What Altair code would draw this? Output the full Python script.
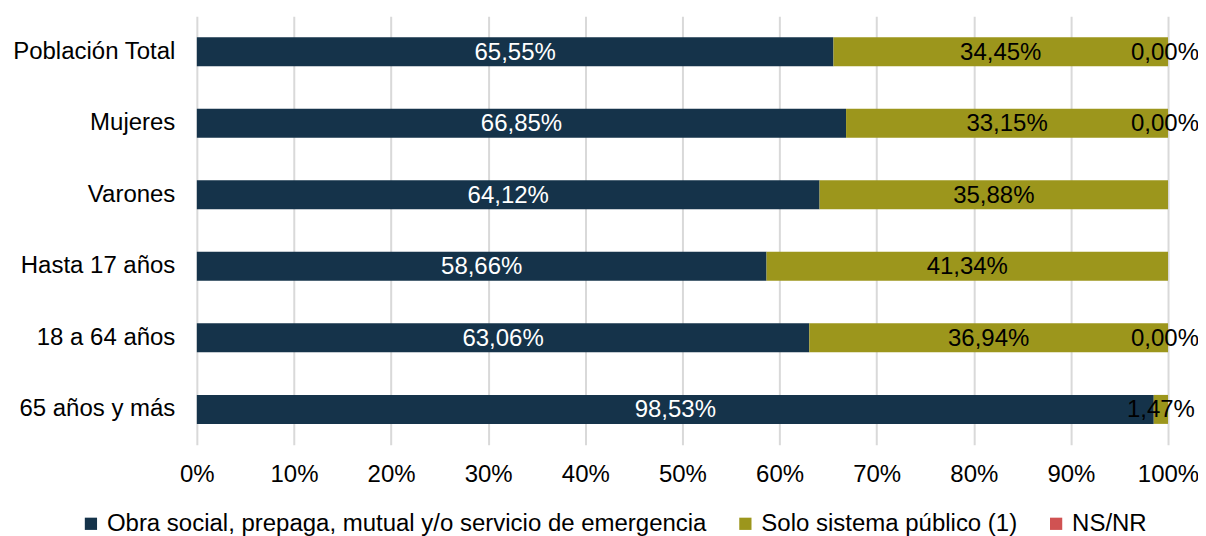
import altair as alt
import pandas as pd

categories = ["Población Total", "Mujeres", "Varones", "Hasta 17 años", "18 a 64 años", "65 años y más"]
series = ["Obra social, prepaga, mutual y/o servicio de emergencia", "Solo sistema público (1)", "NS/NR"]
obra_social = [65.55, 66.85, 64.12, 58.66, 63.06, 98.53]
solo_publico = [34.45, 33.15, 35.88, 41.34, 36.94, 1.47]
ns_nr = [0.00, 0.00, 0.00, 0.00, 0.00, 0.00]
ns_nr_shown = [True, True, False, False, True, False]
colors = ["#15334A", "#9C961C", "#D05252"]
text_colors = ["white", "black", "black"]

rows = []
for i, c in enumerate(categories):
    for j, (s, vals) in enumerate(zip(series, [obra_social, solo_publico, ns_nr])):
        show = True if j < 2 else ns_nr_shown[i]
        rows.append({"category": c, "series": s, "value": vals[i], "order": j,
                     "show": show, "tcolor": text_colors[j]})
df = pd.DataFrame(rows)

FONT = "Liberation Sans"
FS = 24

base = alt.Chart(df).transform_stack(
    stack="value", groupby=["category"], as_=["x0", "x1"],
    sort=[alt.SortField("order", order="ascending")]
).transform_calculate(
    mid="(datum.x0 + datum.x1) / 2",
    label="replace(format(datum.value, '.2f'), '.', ',') + '%'"
)

y_enc = alt.Y("category:N", sort=categories, title=None,
              scale=alt.Scale(paddingInner=0.595, paddingOuter=0.293),
              axis=alt.Axis(labelFontSize=FS, labelFont=FONT, labelColor="black",
                            ticks=False, domain=False, labelPadding=22, grid=False,
                            labelLimit=300))

bars = base.mark_bar().encode(
    x=alt.X("x0:Q", title=None,
            scale=alt.Scale(domain=[0, 100], nice=False),
            axis=alt.Axis(values=list(range(0, 101, 10)), labelExpr="datum.value + '%'",
                          labelFontSize=FS, labelFont=FONT, labelColor="black",
                          labelFlush=False,
                          ticks=False, domain=False, labelPadding=18,
                          grid=True, gridColor="#D9D9D9", gridWidth=2)),
    x2="x1:Q",
    y=y_enc,
    color=alt.Color("series:N", sort=series,
                    scale=alt.Scale(domain=series, range=colors),
                    legend=alt.Legend(title=None, orient="none", direction="horizontal",
                                      legendX=-118, legendY=496,
                                      symbolType="square", symbolSize=150,
                                      symbolStrokeWidth=0, symbolOpacity=1,
                                      labelFontSize=FS, labelFont=FONT, labelColor="black",
                                      columnPadding=26, labelOffset=4, labelLimit=800)),
)

texts = base.transform_filter("datum.show && datum.order < 2").mark_text(
    fontSize=FS, font=FONT, baseline="middle", align="center", dy=1
).encode(
    x=alt.X("mid:Q"),
    y=alt.Y("category:N", sort=categories),
    text="label:N",
    color=alt.Color("tcolor:N", scale=None),
)

texts_ns = base.transform_filter("datum.show && datum.order == 2").mark_text(
    fontSize=FS, font=FONT, baseline="middle", align="center", dy=1, dx=-3
).encode(
    x=alt.X("mid:Q"),
    y=alt.Y("category:N", sort=categories),
    text="label:N",
    color=alt.Color("tcolor:N", scale=None),
)

chart = alt.layer(bars, texts, texts_ns).properties(
    width=972, height=429,
    padding={"left": 189, "top": 8, "right": 30, "bottom": 100},
    autosize=alt.AutoSizeParams(type="none"),
).configure_view(stroke=None)

chart.save("out.html", embed_options={"renderer": "svg", "actions": False})
